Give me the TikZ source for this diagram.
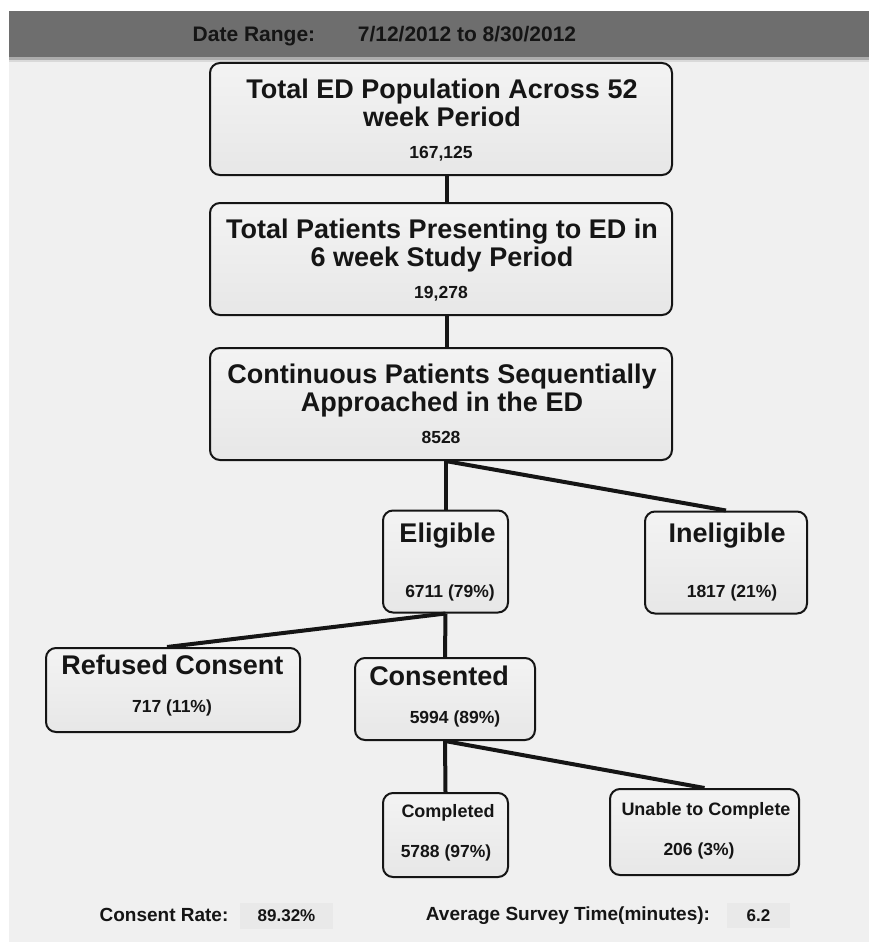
\documentclass[tikz,border=0pt]{standalone}
\usepackage{fontspec}
\setmainfont{Liberation Sans}
\usetikzlibrary{calc}

\definecolor{panel}{HTML}{F0F0F0}
\definecolor{headerbar}{HTML}{6E6E6E}
\definecolor{boxtop}{HTML}{F3F3F3}
\definecolor{boxbot}{HTML}{E7E7E7}
\definecolor{valfill}{HTML}{E9E9E9}
\definecolor{ink}{HTML}{151515}

\begin{document}
\begin{tikzpicture}[x=1pt, y=-1pt,
    box/.style={draw=ink, line width=2pt, rounded corners=10pt, top color=boxtop, bottom color=boxbot, inner sep=0pt},
    link/.style={line width=4pt, ink},
    bigtitle/.style={font=\fontsize{27}{28}\selectfont\bfseries, align=center, anchor=base, text=ink},
    smalltitle/.style={font=\fontsize{18}{20}\selectfont\bfseries, anchor=base, text=ink},
    count/.style={font=\fontsize{17.5}{20}\selectfont\bfseries, anchor=base, text=ink},
    headtext/.style={font=\fontsize{21}{24}\selectfont\bfseries, anchor=base, text=ink},
    footlabel/.style={font=\fontsize{19}{22}\selectfont\bfseries, anchor=base, text=ink},
    valbox/.style={fill=valfill, inner sep=0pt, font=\fontsize{17}{20}\selectfont\bfseries, text=ink}]

    % Canvas
    \useasboundingbox (0,0) rectangle (869,942);
    \fill[white] (0,0) rectangle (869,942);
    \fill[panel] (9,58) rectangle (869,942);

    % Header bar
    \fill[headerbar] (9,11) rectangle (869,58);
    \fill[gray!65] (9,57) rectangle (869,60);
    \fill[gray!30] (9,60) rectangle (869,62);
    \node[headtext] (daterange) at (254,42) {Date Range:};
    \node[headtext] (dates) at (467,42) {7/12/2012 to 8/30/2012};

    % Boxes
    \node[box, minimum width=462pt, minimum height=112pt] (edpop) at (441,119) {};
    \node[box, minimum width=462pt, minimum height=112pt] (studypop) at (441,259) {};
    \node[box, minimum width=462pt, minimum height=112pt] (approached) at (441,404) {};
    \node[box, minimum width=125pt, minimum height=102pt] (eligible) at (445.5,561.5) {};
    \node[box, minimum width=162pt, minimum height=102pt] (ineligible) at (726,562.5) {};
    \node[box, minimum width=254pt, minimum height=84pt] (refused) at (173,690) {};
    \node[box, minimum width=180pt, minimum height=82pt] (consented) at (445,699) {};
    \node[box, minimum width=125pt, minimum height=84pt] (completed) at (445.5,835) {};
    \node[box, minimum width=189pt, minimum height=86pt] (unable) at (704.5,832) {};

    % Connectors
    \draw[link] ([xshift=6pt]edpop.south) -- ([xshift=6pt]studypop.north);
    \draw[link] ([xshift=6pt]studypop.south) -- ([xshift=6pt]approached.north);
    \draw[link] (approached.south -| eligible.north) -- (eligible.north);
    \draw[link] (approached.south -| eligible.north) -- (ineligible.north);
    \draw[link] (eligible.south) -- (consented.north);
    \draw[link] (eligible.south) -- ([xshift=-6pt]refused.north);
    \draw[link] (consented.south) -- (completed.north);
    \draw[link] (consented.south) -- (unable.north);

    % Box texts
    \node[bigtitle] (edpoptitle) at (442,126) {Total ED Population Across 52\\week Period};
    \node[count] (edpopcount) at (441,158) {167,125};
    \node[bigtitle] (studytitle) at (442,266) {Total Patients Presenting to ED in\\6 week Study Period};
    \node[count] (studycount) at (441,298) {19,278};
    \node[bigtitle] (approachtitle) at (442,411) {Continuous Patients Sequentially\\Approached in the ED};
    \node[count] (approachcount) at (441,443) {8528};
    \node[bigtitle] (eligibletitle) at (447.5,542) {Eligible};
    \node[count] (eligiblecount) at (450,597) {6711 (79\%)};
    \node[bigtitle] (ineligibletitle) at (727,542) {Ineligible};
    \node[count] (ineligiblecount) at (732,597) {1817 (21\%)};
    \node[bigtitle] (refusedtitle) at (172.5,674) {Refused Consent};
    \node[count] (refusedcount) at (172,712) {717 (11\%)};
    \node[bigtitle] (consentedtitle) at (439,685) {Consented};
    \node[count] (consentedcount) at (455,723) {5994 (89\%)};
    \node[smalltitle] (completedtitle) at (448,817) {Completed};
    \node[count] (completedcount) at (446,857) {5788 (97\%)};
    \node[smalltitle] (unabletitle) at (706,815) {Unable to Complete};
    \node[count] (unablecount) at (699,855) {206 (3\%)};

    % Footer
    \node[footlabel] (ratelabel) at (164,921) {Consent Rate:};
    \node[valbox, minimum width=93pt, minimum height=26pt] (rate) at (286.5,916) {89.32\%};
    \node[footlabel] (timelabel) at (568,920) {Average Survey Time(minutes):};
    \node[valbox, minimum width=63pt, minimum height=25pt] (time) at (758.5,915.5) {6.2};
\end{tikzpicture}
\end{document}
